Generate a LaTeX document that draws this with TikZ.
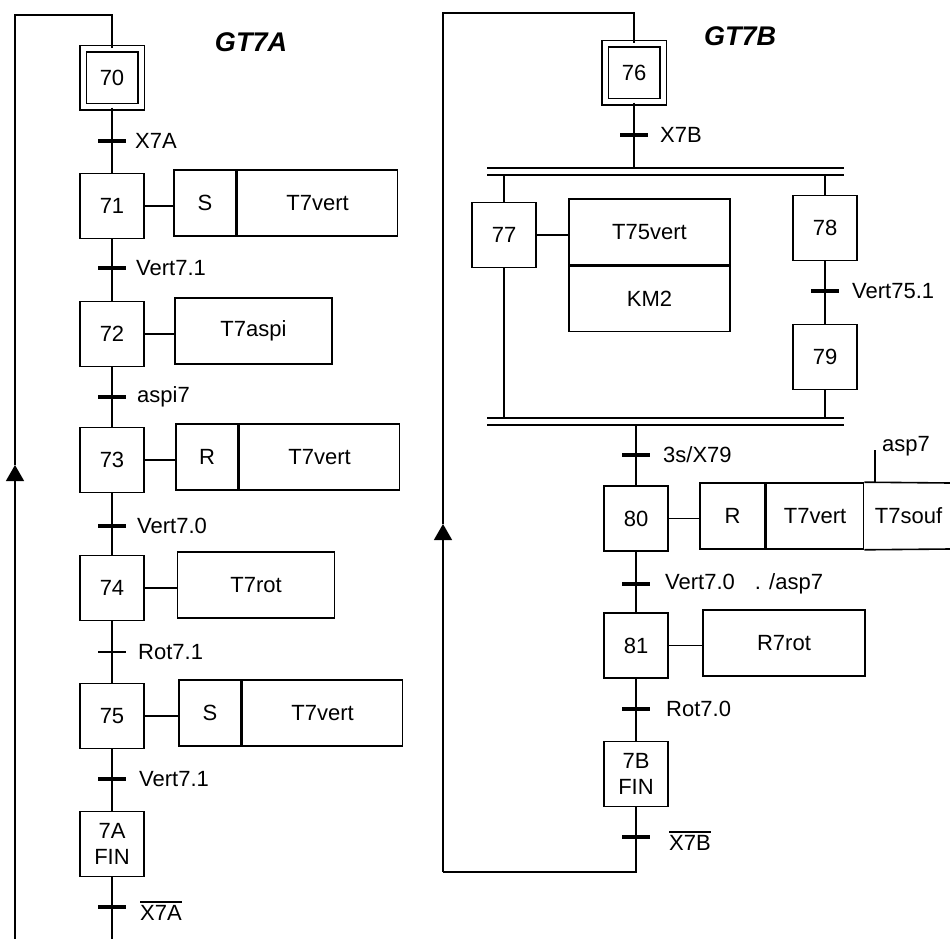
\documentclass[tikz,border=0pt]{standalone}
\usepackage{fontspec}
\setmainfont{Liberation Sans}
\usetikzlibrary{arrows.meta}
\newcommand\lab{\fontsize{22}{26}\selectfont}
\newcommand\ovl[1]{\vbox{\hrule height 1.3pt\kern 3pt\hbox{#1}}}
\begin{document}
\begin{tikzpicture}[x=1pt,y=-1pt,
  every node/.style={font=\lab},
  stepbox/.style={draw, line width=1.6pt, minimum width=64pt, minimum height=65pt, inner sep=0pt, align=center},
  initstep/.style={draw, double, double distance=5pt, line width=1.4pt, minimum width=58pt, minimum height=58pt, inner sep=0pt},
  actbox/.style={draw, line width=1.6pt, minimum height=66pt, inner sep=0pt},
  link/.style={line width=1.4pt},
  tbar/.style={line width=4pt},
  tbarthin/.style={line width=2pt},
  tlabel/.style={anchor=west, inner sep=0pt},
  rail/.style={line width=1.8pt},
  uparrow/.style={-{Triangle[width=18pt,length=16pt]}},
  gtitle/.style={font=\fontsize{27}{30}\selectfont\bfseries\itshape}
]
\useasboundingbox (0,0) rectangle (950,939);
\fill[white] (0,0) rectangle (950,939);

% ================= GT7A =================
\node[gtitle] (titA) at (251,42) {GT7A};

\node[initstep] (s70) at (112,78) {70};
\node[stepbox] (s71) at (112,206) {71};
\node[stepbox] (s72) at (112,334) {72};
\node[stepbox] (s73) at (112,460) {73};
\node[stepbox] (s74) at (112,588) {74};
\node[stepbox] (s75) at (112,716) {75};
\node[stepbox] (s7A) at (112,844) {7A\\FIN};

\coordinate (t70) at (112,141);
\coordinate (t71) at (112,268);
\coordinate (t72) at (112,397);
\coordinate (t73) at (112,526);
\coordinate (t74) at (112,652);
\coordinate (t75) at (112,779);
\coordinate (t7A) at (112,907);
\coordinate (endA) at (112,939);

% actions
\node[actbox, minimum width=62pt] (a71s) at (205,203) {S};
\node[actbox, minimum width=160pt, anchor=west] (a71v) at (a71s.east) {T7vert};
\node[actbox, minimum width=157pt] (a72) at (253.5,331) {T7aspi};
\node[actbox, minimum width=62pt] (a73r) at (207,457) {R};
\node[actbox, minimum width=160pt, anchor=west] (a73v) at (a73r.east) {T7vert};
\node[actbox, minimum width=157pt] (a74) at (256,585) {T7rot};
\node[actbox, minimum width=62pt] (a75s) at (210,713) {S};
\node[actbox, minimum width=160pt, anchor=west] (a75v) at (a75s.east) {T7vert};

\draw[link] (s71.east) -- (s71.east -| a71s.west);
\draw[link] (s72.east) -- (s72.east -| a72.west);
\draw[link] (s73.east) -- (s73.east -| a73r.west);
\draw[link] (s74.east) -- (s74.east -| a74.west);
\draw[link] (s75.east) -- (s75.east -| a75s.west);

% vertical links
\draw[link] (s70) -- (s71);
\draw[link] (s71) -- (s72);
\draw[link] (s72) -- (s73);
\draw[link] (s73) -- (s74);
\draw[link] (s74) -- (s75);
\draw[link] (s75) -- (s7A);
\draw[link] (s7A.south) -- (endA);

% transitions
\foreach \t in {t70,t71,t72,t73,t75,t7A}
  \draw[tbar] ([xshift=-14pt]\t) -- ([xshift=14pt]\t);
\draw[tbarthin] ([xshift=-14pt]t74) -- ([xshift=14pt]t74);

\node[tlabel] at ([xshift=23pt]t70) {X7A};
\node[tlabel] at ([xshift=24pt]t71) {Vert7.1};
\node[tlabel] at ([xshift=25pt]t72) {aspi7};
\node[tlabel] at ([xshift=25pt]t73) {Vert7.0};
\node[tlabel] at ([xshift=26pt]t74) {Rot7.1};
\node[tlabel] at ([xshift=27pt]t75) {Vert7.1};
\node[tlabel] at ([xshift=28pt,yshift=-4pt]t7A) {\ovl{X7A}};

% loop
\coordinate (lA1) at (112,15);
\coordinate (lA2) at (15,15);
\coordinate (lA3) at (15,939);
\coordinate (lAar) at (15,465);
\draw[link, uparrow] (lA3) -- (lAar);
\draw[link] (lAar) -- (lA2) -- (lA1) -- (s70.north);

% ================= GT7B =================
\node[gtitle] (titB) at (740,36) {GT7B};

\node[initstep] (s76) at (634,73) {76};
\coordinate (t76) at (634,135);
\coordinate (divT) at (634,168);
\coordinate (divB) at (634,175);
\coordinate (divL) at (487,168);
\coordinate (divR) at (844,168);
\draw[rail] (divL) -- (divR);
\draw[rail] (divL |- divB) -- (divR |- divB);

\node[stepbox] (s77) at (504,235) {77};
\node[actbox, minimum width=161pt] (a77a) at (649.5,232) {T75vert};
\node[actbox, minimum width=161pt, minimum height=65pt, anchor=north] (a77b) at (a77a.south) {KM2};
\draw[link] (s77.east) -- (s77.east -| a77a.west);

\node[stepbox] (s78) at (825,228) {78};
\coordinate (t78) at (825,291);
\node[stepbox] (s79) at (825,357) {79};

\coordinate (conT) at (636,418);
\coordinate (conB) at (636,425);
\draw[rail] (conT -| divL) -- (conT -| divR);
\draw[rail] (conB -| divL) -- (conB -| divR);

\node[stepbox] (s80) at (636,518.5) {80};
\coordinate (t79) at (636,455);
\node[actbox, minimum width=65pt] (a80r) at (732.5,516) {R};
\node[actbox, minimum width=97pt, anchor=west] (a80v) at (a80r.east) {T7vert};
\node[minimum width=88pt, minimum height=66pt, inner sep=0pt, anchor=west] (a80s) at (a80v.east) {T7souf};
\coordinate (a80ne) at (950,483);
\coordinate (a80se) at (950,549);
\draw[line width=1.6pt] (a80v.north east) -- (a80ne);
\draw[line width=1.6pt] (a80v.south east) -- (a80se);
\draw[link] (s80.east) -- (s80.east -| a80r.west);
\coordinate (aspB) at (875,483);
\coordinate (aspT) at (875,450);
\draw[link] (aspB |- a80v.north) -- (aspT);
\node[tlabel] (asplab) at (882,446) {asp7};

\coordinate (t80) at (636,584);
\node[stepbox] (s81) at (636,645.5) {81};
\node[actbox, minimum width=162pt] (a81) at (784,643) {R7rot};
\draw[link] (s81.east) -- (s81.east -| a81.west);
\coordinate (t81) at (636,709);
\node[stepbox] (s7B) at (636,774) {7B\\FIN};
\coordinate (t7B) at (636,837);

% vertical links
\draw[link] (s76.south) -- (divT);
\draw[link] (s77.north |- divB) -- (s77.north);
\draw[link] (s78.north |- divB) -- (s78.north);
\draw[link] (s78) -- (s79);
\draw[link] (s77.south) -- (s77.south |- conT);
\draw[link] (s79.south) -- (s79.south |- conT);
\draw[link] (conB) -- (s80.north);
\draw[link] (s80) -- (s81);
\draw[link] (s81) -- (s7B);

% transitions
\foreach \t in {t76,t78,t79,t80,t81,t7B}
  \draw[tbar] ([xshift=-14pt]\t) -- ([xshift=14pt]\t);
\node[tlabel] at ([xshift=26pt]t76) {X7B};
\node[tlabel] at ([xshift=27pt]t78) {Vert75.1};
\node[tlabel] at ([xshift=27pt]t79) {3s/X79};
\node[tlabel] at ([xshift=29pt]t80) {Vert7.0\hspace{20pt}. /asp7};
\node[tlabel] at ([xshift=30pt]t81) {Rot7.0};
\node[tlabel] at ([xshift=33pt,yshift=-4pt]t7B) {\ovl{X7B}};

% loop
\coordinate (lB0) at (636,872);
\coordinate (lB1) at (443,872);
\coordinate (lBar) at (443,524);
\coordinate (lB2) at (443,13);
\coordinate (lB3) at (634,13);
\draw[link] (s7B.south) -- (lB0) -- (lB1);
\draw[link, uparrow] (lB1) -- (lBar);
\draw[link] (lBar) -- (lB2) -- (lB3) -- (s76.north);
\end{tikzpicture}
\end{document}
